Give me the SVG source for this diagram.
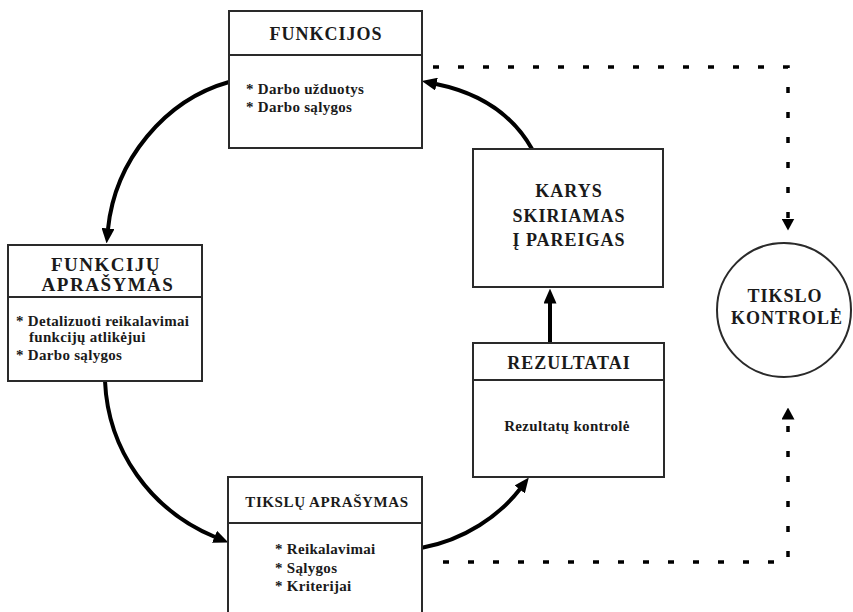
<svg xmlns="http://www.w3.org/2000/svg" width="853" height="612" viewBox="0 0 853 612">
  <style>
    .box { fill: #ffffff; stroke: #2a2a2a; stroke-width: 2; }
    .div { stroke: #2a2a2a; stroke-width: 2; fill: none; }
    .title { font-family: "Liberation Serif", "Times New Roman", serif; font-weight: bold; font-size: 18px; letter-spacing: 1px; fill: #1a1a1a; text-anchor: middle; }
    .title-lg { font-size: 19px; letter-spacing: 1.5px; }
    .title-sm { font-family: "Liberation Serif", "Times New Roman", serif; font-weight: bold; font-size: 15px; letter-spacing: 0.6px; fill: #1a1a1a; text-anchor: middle; }
    .body { font-family: "Liberation Serif", "Times New Roman", serif; font-weight: bold; font-size: 15px; letter-spacing: 0.3px; fill: #1a1a1a; }
    .flow { fill: none; stroke: #000000; stroke-width: 4; }
    .control { fill: none; stroke: #000000; stroke-width: 3.5; stroke-dasharray: 6 19; }
  </style>
  <defs>
    <marker id="arrow" markerUnits="userSpaceOnUse" markerWidth="15" markerHeight="13" viewBox="0 0 15 13" refX="0.5" refY="6.5" orient="auto">
      <path d="M0,0 L15,6.5 L0,13 z" fill="#000000"/>
    </marker>
    <marker id="arrow-dot" markerUnits="userSpaceOnUse" markerWidth="12" markerHeight="13" viewBox="0 0 12 13" refX="0.5" refY="6.5" orient="auto">
      <path d="M0,0 L12,6.5 L0,13 z" fill="#000000"/>
    </marker>
  </defs>

  <rect width="853" height="612" fill="#ffffff"/>

  <!-- connectors -->
  <g id="connectors">
    <path class="flow" d="M229,82 C165,100 115,160 108,229" marker-end="url(#arrow)"/>
    <path class="flow" d="M105,381 C108,450 150,510 215,537" marker-end="url(#arrow)"/>
    <path class="flow" d="M421,548 C465,540 500,515 520,489" marker-end="url(#arrow)"/>
    <path class="flow" d="M550,343 L550,303" marker-end="url(#arrow)"/>
    <path class="flow" d="M532,149 C510,110 475,92 436,84" marker-end="url(#arrow)"/>
    <path class="control" d="M433,67 H788 V219" marker-end="url(#arrow-dot)"/>
    <path class="control" d="M443,562 H788 V419" marker-end="url(#arrow-dot)"/>
  </g>

  <!-- Functions -->
  <g id="funkcijos">
    <rect class="box" x="229" y="11" width="193" height="137"/>
    <line class="div" x1="229" y1="55" x2="422" y2="55"/>
    <text class="title" x="326" y="40">FUNKCIJOS</text>
    <text class="body" x="246" y="94">* Darbo užduotys</text>
    <text class="body" x="246" y="112">* Darbo sąlygos</text>
  </g>

  <!-- Description of functions -->
  <g id="funkciju-aprasymas">
    <rect class="box" x="8" y="245" width="194" height="136"/>
    <line class="div" x1="8" y1="297" x2="202" y2="297"/>
    <text class="title title-lg" x="106" y="271">FUNKCIJŲ</text>
    <text class="title title-lg" x="108" y="291">APRAŠYMAS</text>
    <text class="body" x="16" y="326">* Detalizuoti reikalavimai</text>
    <text class="body" x="29" y="342">funkcijų atlikėjui</text>
    <text class="body" x="16" y="360">* Darbo sąlygos</text>
  </g>

  <!-- Description of goals -->
  <g id="tikslu-aprasymas">
    <rect class="box" x="228" y="477" width="194" height="150"/>
    <line class="div" x1="228" y1="523" x2="422" y2="523"/>
    <text class="title-sm" x="327" y="507">TIKSLŲ APRAŠYMAS</text>
    <text class="body" x="275" y="554">* Reikalavimai</text>
    <text class="body" x="275" y="573">* Sąlygos</text>
    <text class="body" x="275" y="591">* Kriterijai</text>
  </g>

  <!-- Results -->
  <g id="rezultatai">
    <rect class="box" x="473" y="343" width="191" height="134"/>
    <line class="div" x1="473" y1="380" x2="664" y2="380"/>
    <text class="title" x="569" y="369">REZULTATAI</text>
    <text class="body" x="567" y="431" text-anchor="middle">Rezultatų kontrolė</text>
  </g>

  <!-- Soldier assigned to duties -->
  <g id="karys">
    <rect class="box" x="473" y="149" width="190" height="138"/>
    <text class="title" x="569" y="197">KARYS</text>
    <text class="title" x="569" y="222">SKIRIAMAS</text>
    <text class="title" x="569" y="246">Į PAREIGAS</text>
  </g>

  <!-- Goal control -->
  <g id="tikslo-kontrole">
    <circle class="box" cx="784" cy="310" r="67"/>
    <text class="title" x="785" y="302">TIKSLO</text>
    <text class="title" x="787" y="324">KONTROLĖ</text>
  </g>
</svg>
